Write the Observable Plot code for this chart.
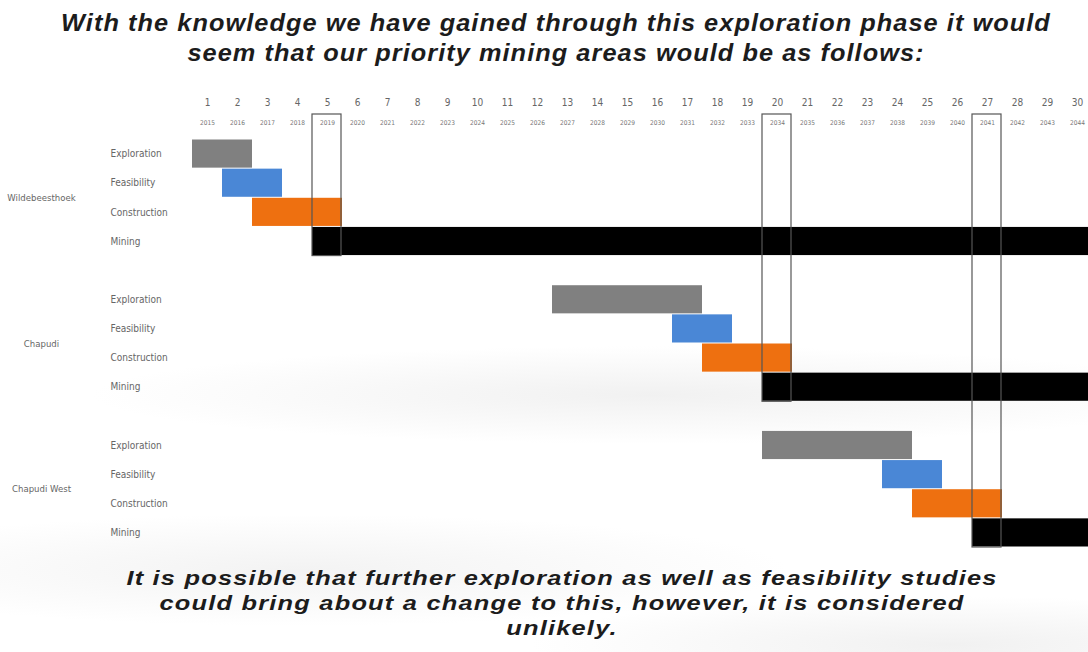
<!DOCTYPE html>
<html>
<head>
<meta charset="utf-8">
<script src="https://cdn.jsdelivr.net/npm/d3@7"></script>
<script src="https://cdn.jsdelivr.net/npm/@observablehq/plot@0.6"></script>
<style>
  html, body { margin: 0; padding: 0; width: 1088px; height: 652px; overflow: hidden; }
  body {
    position: relative;
    background:
      radial-gradient(ellipse 800px 70px at 650px 395px, rgba(205,205,205,0.28), rgba(255,255,255,0) 70%),
      radial-gradient(ellipse 700px 80px at 300px 570px, rgba(200,200,200,0.22), rgba(255,255,255,0) 70%),
      radial-gradient(ellipse 600px 70px at 950px 645px, rgba(190,190,190,0.22), rgba(255,255,255,0) 70%),
      #ffffff;
    font-family: "Liberation Sans", Arial, sans-serif;
  }
  .title, .caption {
    position: absolute; width: 1088px; text-align: center;
    font-weight: 700; font-style: italic; color: #1c1c1c;
    letter-spacing: 1px; transform-origin: 50% 0;
  }
  .title { top: 8px; left: 12px; font-size: 24px; line-height: 30px; transform: scaleX(1.055); }
  .caption { top: 566px; left: 18px; font-size: 21px; line-height: 24.8px; transform: scaleX(1.21); }
  #chart { position: absolute; left: 0; top: 85px; }
</style>
</head>
<body>
<div class="title">With the knowledge we have gained through this exploration phase it would<br>seem that our priority mining areas would be as follows:</div>
<div id="chart"></div>
<div class="caption">It is possible that further exploration as well as feasibility studies<br>could bring about a change to this, however, it is considered<br>unlikely.</div>
<script>
const areas = ["Wildebeesthoek", "Chapudi", "Chapudi West"];
const phases = ["Exploration", "Feasibility", "Construction", "Mining"];
const phaseColors = ["#808080", "#4a87d6", "#ee7010", "#000000"];
const periods = [1,2,3,4,5,6,7,8,9,10,11,12,13,14,15,16,17,18,19,20,21,22,23,24,25,26,27,28,29,30];
const years = [2015,2016,2017,2018,2019,2020,2021,2022,2023,2024,2025,2026,2027,2028,2029,2030,2031,2032,2033,2034,2035,2036,2037,2038,2039,2040,2041,2042,2043,2044];
// start / end period of each phase (inclusive), per area
const wildebeesthoekStart = [1, 2, 3, 5];
const wildebeesthoekEnd   = [2, 3, 5, 30];
const chapudiStart        = [13, 17, 18, 20];
const chapudiEnd          = [17, 18, 20, 30];
const chapudiWestStart    = [20, 24, 25, 27];
const chapudiWestEnd      = [24, 25, 27, 30];
// first mining period highlighted for each area
const miningStartPeriods  = [5, 20, 27];

const starts = [wildebeesthoekStart, chapudiStart, chapudiWestStart];
const ends = [wildebeesthoekEnd, chapudiEnd, chapudiWestEnd];
const rowsPerArea = phases.length + 1; // one blank row between areas

const tasks = [];
areas.forEach((a, ai) => phases.forEach((p, pi) => {
  tasks.push({area: a, phase: p, color: phaseColors[pi], start: starts[ai][pi], end: ends[ai][pi], row: ai * rowsPerArea + pi});
}));
const boxes = miningStartPeriods.map((p, ai) => ({period: p, bottom: ai * rowsPerArea + phases.length}));
const taskTicks = tasks.map(t => t.row + 0.5);
const taskName = new Map(tasks.map(t => [t.row + 0.5, t.phase]));
const areaTicks = areas.map((a, ai) => ai * rowsPerArea + 2);
const areaName = new Map(areas.map((a, ai) => [ai * rowsPerArea + 2, a]));
const periodTicks = periods.map(p => p - 0.5);
const yearOf = new Map(periods.map((p, i) => [p - 0.5, years[i]]));

const chart = Plot.plot({
  width: 1088,
  height: 470,
  marginTop: 54,
  marginBottom: 8,
  marginLeft: 192,
  marginRight: 0,
  style: {fontFamily: "'DejaVu Sans Condensed', 'DejaVu Sans', sans-serif", fontStretch: "condensed", color: "#555", background: "transparent", overflow: "visible"},
  x: {domain: [0, 30], range: [192, 1092], axis: null},
  y: {domain: [0, 14], reverse: true, axis: null},
  marks: [
    Plot.rect(tasks, {x1: d => d.start - 1, x2: d => d.end, y1: "row", y2: d => d.row + 1, fill: "color", insetTop: 0.5, insetBottom: 0.5}),
    Plot.rect(boxes, {x1: d => d.period - 1, x2: "period", y1: 0, y2: "bottom", fill: "none", stroke: "#555", strokeWidth: 1.2, insetTop: -25, insetLeft: 0, insetRight: 1}),
    Plot.axisX(periodTicks, {anchor: "top", label: null, tickSize: 0, tickPadding: 0, dy: -34, fontSize: 10, tickFormat: d => String(d + 0.5), fill: "#666"}),
    Plot.axisX(periodTicks, {anchor: "top", label: null, tickSize: 0, tickPadding: 0, dy: -15, fontSize: 6.5, tickFormat: d => String(yearOf.get(d)), fill: "#777"}),
    Plot.axisY(taskTicks, {anchor: "left", label: null, tickSize: 0, tickPadding: 0, textAnchor: "start", dx: -82, fontSize: 10, tickFormat: d => taskName.get(d), fill: "#666"}),
    Plot.axisY(areaTicks, {anchor: "left", label: null, tickSize: 0, tickPadding: 0, textAnchor: "middle", dx: -151, fontSize: 9.5, tickFormat: d => areaName.get(d), fill: "#666"})
  ]
});
document.getElementById("chart").appendChild(chart);
</script>
</body>
</html>
